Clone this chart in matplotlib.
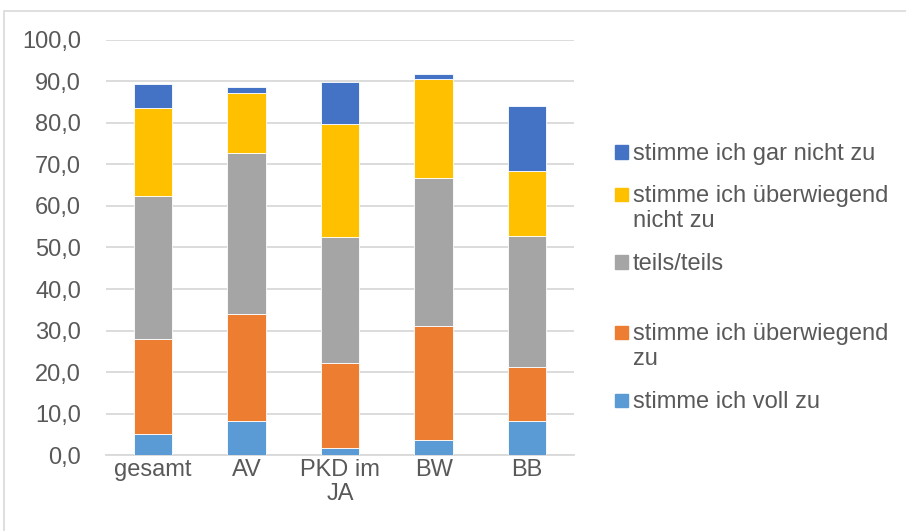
import matplotlib.pyplot as plt
from matplotlib.patches import Rectangle
import numpy as np

plt.rcParams['font.family'] = ['Liberation Sans', 'DejaVu Sans']

# Zustimmung in Prozent, von unten nach oben gestapelt
categories = ["gesamt", "AV", "PKD im\nJA", "BW", "BB"]
voll_zu = [5.0, 8.1, 1.8, 3.7, 8.1]
ueberw_zu = [22.9, 25.8, 20.3, 27.3, 13.1]
teils = [34.4, 38.8, 30.5, 35.7, 31.5]
ueberw_nicht = [21.3, 14.5, 27.1, 23.8, 15.8]
gar_nicht = [5.8, 1.5, 10.2, 1.2, 15.7]

series = [voll_zu, ueberw_zu, teils, ueberw_nicht, gar_nicht]
labels = ["stimme ich voll zu", "stimme ich überwiegend\nzu", "teils/teils",
          "stimme ich überwiegend\nnicht zu", "stimme ich gar nicht zu"]
colors = ["#5B9BD5", "#ED7D31", "#A5A5A5", "#FFC000", "#4472C4"]

txt = "#595959"
grid = "#D9D9D9"

fig = plt.figure(figsize=(9.06, 5.31), dpi=100)
ax = fig.add_axes([0.117, 0.1431, 0.5166, 0.7816])

x = np.arange(len(categories))
bottom = np.zeros(len(categories))
for vals, col in zip(series, colors):
    ax.bar(x, vals, bottom=bottom, width=0.41, color=col,
           edgecolor="white", linewidth=0.6, zorder=3)
    bottom += np.array(vals)

ax.set_xlim(-0.5, len(categories) - 0.5)
ax.set_ylim(0, 100)
ax.set_yticks(np.arange(0, 101, 10))
ax.set_yticklabels([f"{v:.1f}".replace(".", ",") for v in np.arange(0, 101, 10)])
ax.set_xticks(x)
ax.set_xticklabels(categories, linespacing=1.1)
ax.tick_params(axis="y", length=0, pad=18, labelsize=17, labelcolor=txt)
ax.tick_params(axis="x", length=0, pad=3, labelsize=17, labelcolor=txt)
for lab in ax.get_xticklabels():
    lab.set_verticalalignment("top")
ax.yaxis.grid(True, color=grid, linewidth=1.3, zorder=0)
ax.spines[["top", "right", "left"]].set_visible(False)
ax.spines["bottom"].set_color(grid)
ax.spines["bottom"].set_linewidth(1.3)

# legend by hand, Excel-style spacing (pixel positions from top)
W, H = 906, 531
marker_y = [400, 332, 262, 194, 152]
for lab, col, my in zip(labels, colors, marker_y):
    fig.patches.append(Rectangle((615 / W, 1 - (my + 6.5) / H), 13 / W, 13 / H,
                                 transform=fig.transFigure, color=col))
    fig.text(633 / W, 1 - (my - 9) / H, lab, fontsize=17, color=txt,
             va="top", ha="left", linespacing=1.15)

# chart border
fig.patches.append(Rectangle((4 / W, -0.05), 1.1, 1 - 11 / H + 0.05,
                             transform=fig.transFigure, fill=False,
                             edgecolor=grid, linewidth=1.2))

plt.savefig("out.png", dpi=100)
